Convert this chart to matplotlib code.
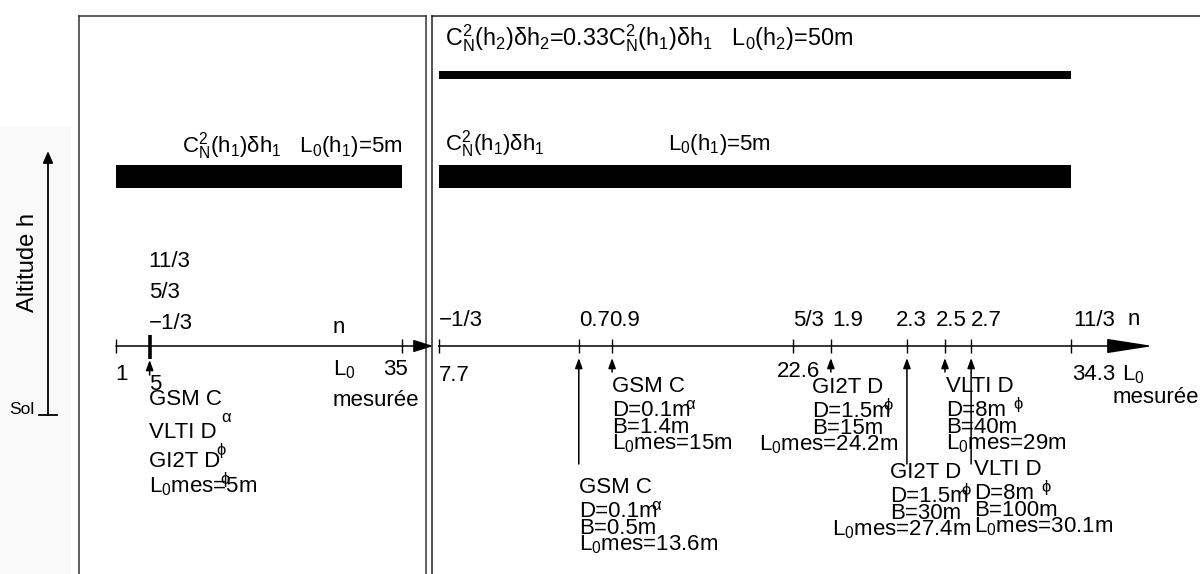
import matplotlib
matplotlib.use('Agg')
import matplotlib.pyplot as plt

plt.rcParams['font.family'] = ['Liberation Sans', 'DejaVu Sans']
plt.rcParams['font.size'] = 16

# ---- values ----
# turbulent layers
cn2_ratio = 0.33          # C_N^2(h2)dh2 / C_N^2(h1)dh1
L0_h1 = 5                 # m
L0_h2 = 50                # m

# one layer: every instrument gives the same L0
left_ticks = [1, 5, 35]
left_n = ['11/3', '5/3', '\u22121/3']
left_instr = ['GSM C', 'VLTI D', 'GI2T D']
left_greek = ['\u03b1', '\u03d5', '\u03d5']
left_L0_mes = 5

# two layers: measured L0 depends on the exponent n
theo_n = ['\u22121/3', '5/3', '11/3']
theo_L0 = [7.7, 22.6, 34.3]
mes_n = ['0.7', '0.9', '1.9', '2.3', '2.5', '2.7']
mes_L0 = [13.6, 15, 24.2, 27.4, 29, 30.1]
mes_instr = ['GSM C', 'GSM C', 'GI2T D', 'GI2T D', 'VLTI D', 'VLTI D']
mes_greek = ['\u03b1', '\u03b1', '\u03d5', '\u03d5', '\u03d5', '\u03d5']
mes_D = [0.1, 0.1, 1.5, 1.5, 8, 8]
mes_B = [0.5, 1.4, 15, 30, 40, 100]

# ---- layout (pixels, rows counted from top) ----
W, H = 1200, 574
AXIS_ROW = 346
mes_row = [493, 392, 393, 478, 392, 475]     # baseline of first line of each block
mes_dx = [0, 0, -19, -17, 1, 3]
mes_dx_last = [0, 0, -72, -75, 1, 3]
mes_long = [True, False, False, True, False, True]
mes_ndx = [0, -3, 1, -11, -9, 0]
line_step = [0, 24, 41, 57]


def sb(s):
    return r'$_{\mathregular{%s}}$' % s


def cn2(h):
    return 'C' + r'$_{\mathregular{N}}^{\mathregular{2}}$' + '(h' + sb(h) + ')\u03b4h' + sb(h)


def px_axes(fig, x0, y0, x1, y1):
    ax = fig.add_axes([x0 / W, 1 - y1 / H, (x1 - x0) / W, (y1 - y0) / H])
    ax.set_ylim(y1, y0)
    ax.set_xticks([])
    ax.set_yticks([])
    return ax


def scale_x(ax, x0, x1, va, pa, vb, pb):
    # linear L0 scale so that value va sits at pixel pa and vb at pb
    k = (pb - pa) / (vb - va)
    ax.set_xlim(va + (x0 - pa) / k, va + (x1 - pa) / k)


def lab(ax, x, row, s, dx=0, **kw):
    return ax.annotate(s, (x, row), xytext=(dx, 0), textcoords='offset pixels',
                       ha='left', va='baseline', annotation_clip=False, **kw)


def greek(ax, t, g):
    ax.annotate(g, xy=(1, 0), xycoords=t, xytext=(0, 0), textcoords='offset pixels',
                ha='left', va='top', fontsize=12, annotation_clip=False)


def up_arrow(ax, x, y0, y1, hl=6, hw=2.2, lw=1.1):
    ax.annotate('', xy=(x, y1), xytext=(x, y0),
                arrowprops=dict(arrowstyle='-|>,head_length=%g,head_width=%g' % (hl, hw),
                                mutation_scale=1, lw=lw, color='k', shrinkA=0, shrinkB=0),
                annotation_clip=False)


fig = plt.figure(figsize=(W / 100, H / 100), dpi=100)

# ---- altitude scale ----
ax_alt = px_axes(fig, 0, 127, 71, 574)
ax_alt.set_xlim(0, 71)
ax_alt.set_facecolor('#f9f9f9')
for s in ax_alt.spines.values():
    s.set_visible(False)
ax_alt.annotate('', xy=(48, 151), xytext=(48, 415),
                arrowprops=dict(arrowstyle='-|>,head_length=7,head_width=3',
                                mutation_scale=1, lw=1.3, color='k', shrinkA=0, shrinkB=0))
ax_alt.plot([39, 57], [415, 415], color='k', lw=1.3)
ax_alt.text(9, 414, 'Sol', fontsize=12.5, va='baseline', ha='left')
ax_alt.text(28, 263, 'Altitude h', rotation=90, ha='center', va='center', fontsize=17)

# ---- left panel: one layer ----
axl = px_axes(fig, 79, 16, 425.5, 574)
scale_x(axl, 79, 425.5, left_ticks[0], 116, left_ticks[-1], 402)
axl.spines['bottom'].set_visible(False)
for s in axl.spines.values():
    s.set_linewidth(1.1)
    s.set_color('#333333')

axl.barh(176.5, left_ticks[-1] - left_ticks[0], left=left_ticks[0], height=23, color='k')
fig.text(182 / W, 1 - 152 / H,
         cn2('1') + '   L' + sb('0') + '(h' + sb('1') + ')=%gm' % L0_h1,
         ha='left', va='baseline')

axl.annotate('', xy=(1.022, AXIS_ROW), xycoords=('axes fraction', 'data'),
             xytext=(left_ticks[0], AXIS_ROW), textcoords='data',
             arrowprops=dict(arrowstyle='-|>,head_length=12,head_width=3.8',
                             mutation_scale=1, lw=1.1, color='k', shrinkA=0, shrinkB=0),
             annotation_clip=False)
axl.vlines([left_ticks[0], left_ticks[-1]], 339, 353, color='k', lw=1)
axl.vlines(left_L0_mes, 335, 359, color='k', lw=2.6)
up_arrow(axl, left_L0_mes, 375, 360)

for v, dx, row in zip(left_ticks, [-1, -1, -19], [380, 390, 375]):
    lab(axl, v, row, '%g' % v, dx)
for s, row in zip(left_n, [267, 298, 329]):
    lab(axl, left_L0_mes, row, s, -1)
lab(axl, left_ticks[-1], 333, 'n', -69)
lab(axl, left_ticks[-1], 375, 'L' + sb('0'), -69)
lab(axl, left_ticks[-1], 406, 'mesurée', -69)

for s, g, row in zip(left_instr, left_greek, [405, 438, 467]):
    t = lab(axl, left_L0_mes, row, s, -1)
    greek(axl, t, g)
lab(axl, left_L0_mes, 492, 'L' + sb('0') + 'mes=%gm' % left_L0_mes, -1)

# ---- right panel: two layers ----
axr = px_axes(fig, 432, 16, 1200, 574)
scale_x(axr, 432, 1200, theo_L0[0], 438.5, theo_L0[-1], 1071)
axr.spines['bottom'].set_visible(False)
axr.spines['right'].set_visible(False)
for s in axr.spines.values():
    s.set_linewidth(1.1)
    s.set_color('#222222')

axr.barh(75, theo_L0[-1] - theo_L0[0], left=theo_L0[0], height=8, color='k')
axr.barh(176.5, theo_L0[-1] - theo_L0[0], left=theo_L0[0], height=23, color='k')
fig.text(445 / W, 1 - 45 / H,
         'C' + r'$_{\mathregular{N}}^{\mathregular{2}}$' + '(h' + sb('2') + ')\u03b4h' + sb('2')
         + '=%g' % cn2_ratio + cn2('1') + '   L' + sb('0') + '(h' + sb('2') + ')=%gm' % L0_h2,
         ha='left', va='baseline', fontsize=16.8)
fig.text(445 / W, 1 - 150 / H, cn2('1'), ha='left', va='baseline')
fig.text(668 / W, 1 - 150 / H, 'L' + sb('0') + '(h' + sb('1') + ')=%gm' % L0_h1,
         ha='left', va='baseline')

axr.annotate('', xy=(0.939, AXIS_ROW), xycoords=('axes fraction', 'data'),
             xytext=(theo_L0[0], AXIS_ROW), textcoords='data',
             arrowprops=dict(arrowstyle='-|>,head_length=29,head_width=4.5',
                             mutation_scale=1, lw=1.1, color='k', shrinkA=0, shrinkB=0),
             annotation_clip=False)
axr.vlines(theo_L0 + mes_L0, 339, 353, color='k', lw=1)

for v, s, ndx, dx, row in zip(theo_L0, theo_n, [0, 0, 2], [0, -16, 1], [381, 377, 380]):
    lab(axr, v, 326, s, ndx)
    lab(axr, v, row, '%g' % v, dx)
lab(axr, theo_L0[-1], 325, 'n', 57)
lab(axr, theo_L0[-1], 380, 'L' + sb('0'), 51)
lab(axr, theo_L0[-1], 403, 'mesurée', 42)

for i, v in enumerate(mes_L0):
    lab(axr, v, 326, mes_n[i], mes_ndx[i])
    up_arrow(axr, v, 464 if mes_long[i] else 372, 358)
    r0 = mes_row[i]
    t = lab(axr, v, r0 + line_step[0], mes_instr[i], mes_dx[i])
    greek(axr, t, mes_greek[i])
    lab(axr, v, r0 + line_step[1], 'D=%gm' % mes_D[i], mes_dx[i])
    lab(axr, v, r0 + line_step[2], 'B=%gm' % mes_B[i], mes_dx[i])
    lab(axr, v, r0 + line_step[3], 'L' + sb('0') + 'mes=%gm' % v, mes_dx_last[i])

fig.savefig('out.png', dpi=100)
